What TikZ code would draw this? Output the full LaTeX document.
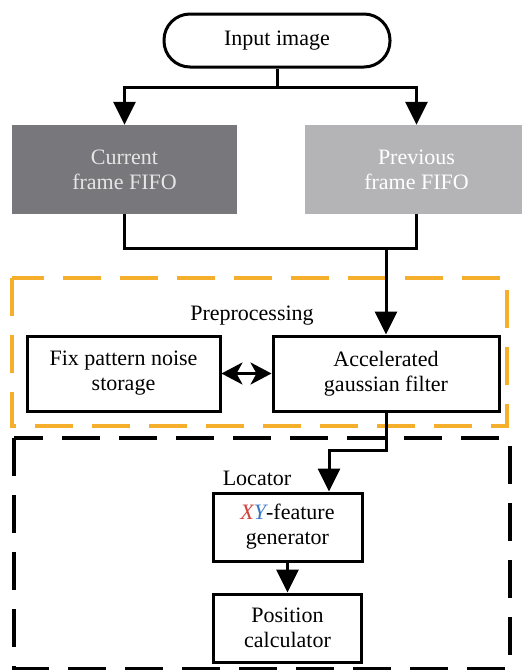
\documentclass[tikz,border=0pt]{standalone}
\usepackage{fontspec}
\setmainfont{Liberation Serif}
\usetikzlibrary{arrows.meta}
\definecolor{darkfifo}{HTML}{78787C}
\definecolor{lightfifo}{HTML}{B4B4B6}
\definecolor{prepo}{HTML}{F5AF2D}
\definecolor{xred}{HTML}{D0403A}
\definecolor{yblue}{HTML}{3A78C8}
\begin{document}
\begin{tikzpicture}[x=1pt,y=-1pt,
  every node/.style={font=\fontsize{22}{25}\selectfont, align=center, inner sep=0pt},
  blockbox/.style={draw, line width=3pt},
  fifobox/.style={minimum height=89pt},
  flow/.style={line width=3pt, -{Triangle[length=23pt,width=22pt]}},
  link/.style={line width=3pt},
  biflow/.style={line width=3pt, {Stealth[length=21pt,width=22pt,inset=6pt]}-{Stealth[length=21pt,width=22pt,inset=6pt]}},
  groupbox/.style={line width=4.5pt, dash pattern=on 38pt off 19pt}]
\useasboundingbox (0,0) rectangle (522,670);

% source
\node[blockbox, rounded corners=26pt, minimum width=226pt, minimum height=53pt] (input) at (277,40.5) {Input image};

% frame buffers
\node[fifobox, fill=darkfifo, text=white!90!black, minimum width=225pt] (cur) at (124.5,169.5) {Current\\frame FIFO};
\node[fifobox, fill=lightfifo, text=white, minimum width=223pt] (prev) at (416.5,169.5) {Previous\\frame FIFO};

% preprocessing group
\draw[groupbox, prepo] (12,278) rectangle (507,426);
\node (prelabel) at (252,316) {Preprocessing};
\node[blockbox, minimum width=193pt, minimum height=75pt] (fpn) at (123.5,373.5) {Fix pattern noise\\storage};
\node[blockbox, minimum width=226pt, minimum height=75pt] (agf) at (386,373.5) {Accelerated\\gaussian filter};

% locator group
\draw[groupbox, black] (14,438) rectangle (510,669);
\node (loclabel) at (257,478) {Locator};
\node[blockbox, minimum width=149pt, minimum height=68pt] (xy) at (287.5,527) {{\color{xred}\itshape X}{\color{yblue}\itshape Y}-feature\\generator};
\node[blockbox, minimum width=148pt, minimum height=68pt] (pos) at (287.5,628) {Position\\calculator};

% connectors
\coordinate (split) at (277,87);
\coordinate (merge) at (386,248);
\coordinate (bend) at (386,450);
\coordinate (xcol) at (329,0);

\draw[link] (input.south) -- (split);
\draw[flow] (split) -| (cur.north);
\draw[flow] (split) -| (prev.north);
\draw[link] (cur.south) -- (cur.south |- merge) -- (prev.south |- merge) -- (prev.south);
\draw[flow] (merge) -- (agf.north);
\draw[biflow] (fpn.east) -- (agf.west);
\draw[flow] (agf.south) -- (bend) -| (xy.north -| xcol);
\draw[flow] (xy.south) -- (xy.south |- pos.north);
\end{tikzpicture}
\end{document}
